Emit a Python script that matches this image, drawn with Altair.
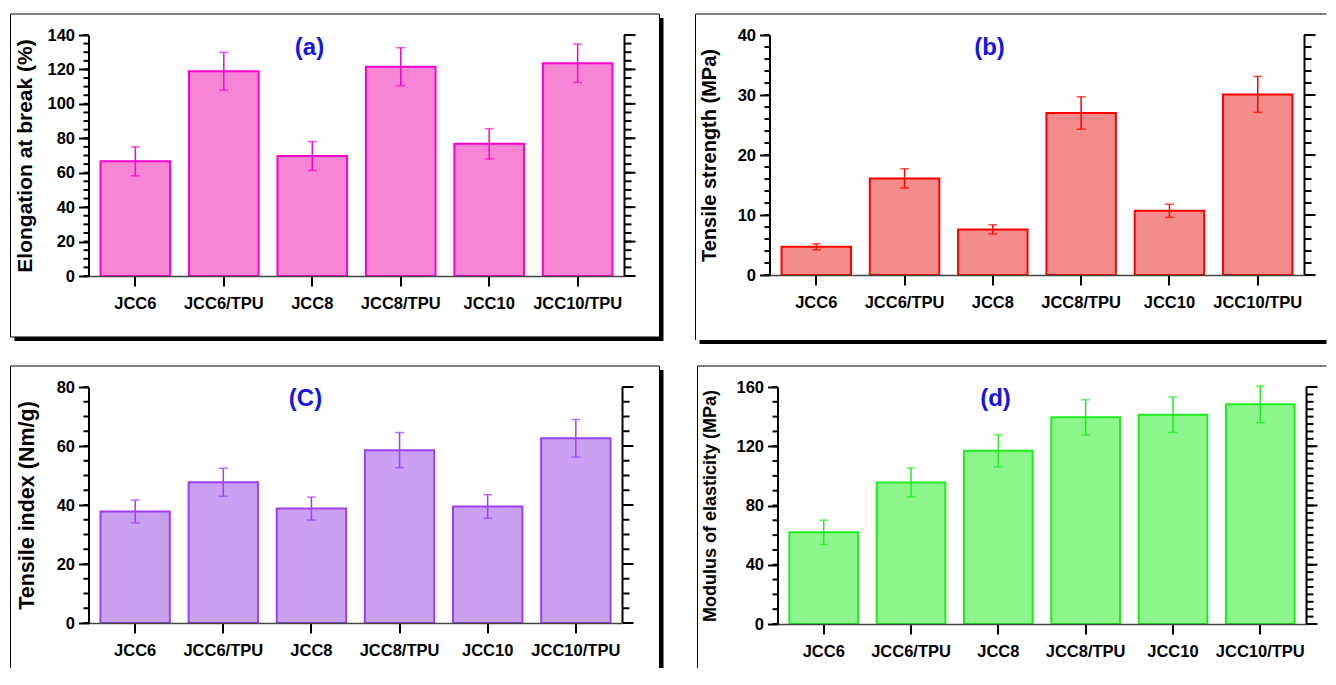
import altair as alt
import pandas as pd

FONT = "Liberation Sans"

cats = ["JCC6", "JCC6/TPU", "JCC8", "JCC8/TPU", "JCC10", "JCC10/TPU"]

a_val = [66.6, 118.9, 69.7, 121.6, 76.8, 123.6]
a_err = [8.4, 11.0, 8.4, 11.0, 8.8, 11.1]

b_val = [4.7, 16.1, 7.6, 27.0, 10.7, 30.1]
b_err = [0.5, 1.6, 0.78, 2.7, 1.1, 3.0]

c_val = [37.8, 47.7, 38.8, 58.6, 39.5, 62.6]
c_err = [3.85, 4.75, 3.9, 5.95, 4.0, 6.4]

d_val = [61.9, 95.6, 117.0, 139.5, 141.3, 148.3]
d_err = [8.2, 9.8, 10.8, 11.9, 12.0, 12.4]

a_major = [0, 20, 40, 60, 80, 100, 120, 140]
a_minor = list(range(0, 141, 5))
b_major = [0, 10, 20, 30, 40]
b_minor = list(range(0, 41, 2))
c_major = [0, 20, 40, 60, 80]
c_minor = list(range(0, 81, 5))
d_major = [0, 40, 80, 120, 160]
d_minor_left = list(range(0, 161, 10))
d_minor_right = list(range(0, 161, 5))

one = pd.DataFrame({"k": [0]})


def rect(x, x2, y, y2, **kw):
    return alt.Chart(one).mark_rect(**kw).encode(
        x=alt.value(x), x2=alt.value(x2), y=alt.value(y), y2=alt.value(y2))


def hline(x, x2, y, w=1):
    return alt.Chart(one).mark_rule(color="black", strokeWidth=w).encode(
        x=alt.value(x), x2=alt.value(x2), y=alt.value(y))


def vline(x, y, y2, w=1):
    return alt.Chart(one).mark_rule(color="black", strokeWidth=w).encode(
        x=alt.value(x), y=alt.value(y), y2=alt.value(y2))


def panel(vals, errs, ymax, major, minor_l, minor_r, ytitle, tsize, tx,
          label, lx, ly, fill, stroke, w, h, frame):
    df = pd.DataFrame({
        "cat": cats,
        "val": vals,
        "lo": [v - e for v, e in zip(vals, errs)],
        "hi": [v + e for v, e in zip(vals, errs)],
    })
    xscale = alt.Scale(paddingInner=0.213, paddingOuter=0.136)
    yscale = alt.Scale(domain=[0, ymax], nice=False, zero=True)
    xaxis = alt.Axis(orient="bottom", title=None, labelAngle=0, labelFont=FONT,
                     labelFontSize=16.5, labelFontWeight="bold", labelColor="black",
                     labelPadding=9, tickSize=10, tickWidth=2, tickColor="black",
                     domainColor="#444444", domainWidth=1.5, bandPosition=0.5,
                     grid=False, zindex=2)
    yaxis = alt.Axis(orient="left", values=major, title=ytitle, titleFont=FONT,
                     titleFontSize=tsize, titleFontWeight="bold", titleColor="black",
                     titleX=tx, titleY=h / 2, titleAngle=270, titleBaseline="middle",
                     titleAlign="center", labelFont=FONT, labelFontSize=16.5,
                     labelFontWeight="bold", labelColor="black", labelPadding=4,
                     tickSize=10, tickWidth=2, tickColor="black",
                     domainColor="black", domainWidth=2, grid=False, format="d",
                     zindex=2)
    xenc = alt.X("cat:N", sort=cats, scale=xscale, axis=xaxis)

    def yenc(field):
        return alt.Y(field, type="quantitative", scale=yscale, axis=yaxis)

    bars = alt.Chart(df).mark_bar(fill=fill, stroke=stroke, strokeWidth=2).encode(
        x=xenc, y=yenc("val"))

    def ticks(values, x0, x1):
        return alt.Chart(pd.DataFrame({"t": values})).mark_rule(
            color="black", strokeWidth=2).encode(
            y=yenc("t"), x=alt.value(x0), x2=alt.value(x1))

    left_minor = ticks(minor_l, -5, 0)
    right_minor = ticks(minor_r, w, w + 7)
    right_major = ticks(major, w, w + 11)
    right_domain = alt.Chart(one).mark_rule(color="black", strokeWidth=2).encode(
        x=alt.value(w), y=alt.value(0), y2=alt.value(h))

    err = alt.Chart(df).mark_rule(color=stroke, strokeWidth=1.5).encode(
        x=xenc, y=yenc("lo"), y2="hi:Q")
    cap_hi = alt.Chart(df).mark_tick(color=stroke, size=9, thickness=1.5).encode(
        x=xenc, y=yenc("hi"))
    cap_lo = alt.Chart(df).mark_tick(color=stroke, size=9, thickness=1.5).encode(
        x=xenc, y=yenc("lo"))

    txt = alt.Chart(one).mark_text(text=label, font=FONT, fontSize=24,
                                   fontWeight="bold", color="#1414E6",
                                   align="center", baseline="middle").encode(
        x=alt.value(lx), y=alt.value(ly))

    layers = frame + [bars, err, cap_hi, cap_lo, txt,
                      left_minor, right_minor, right_major, right_domain]
    return alt.layer(*layers).properties(width=w, height=h)


# frames (decoration around each panel), relative to each plot area
frame_a = [rect(-74, 575, -17, 306, fill="black"),
           rect(-78, 571, -21, 302, fill="white", stroke="black", strokeWidth=1)]
frame_b = [rect(-70, 557, 305, 309, fill="black"),
           hline(-74, 557, -21), vline(-74, -21, 305)]
frame_c = [rect(571, 575, -17, 281, fill="black"),
           hline(-78, 571, -21), vline(-78, -21, 281), vline(571, -21, 281)]
frame_d = [hline(-80, 549, -21), vline(-80, -21, 281)]

pa = panel(a_val, a_err, 140, a_major, a_minor, a_minor,
           "Elongation at break (%)", 21, -63.5, "(a)", 221, 13,
           "#F785D6", "#FF00CC", 536, 241, frame_a)
pb = panel(b_val, b_err, 40, b_major, b_minor, b_minor,
           "Tensile strength (MPa)", 20, -60, "(b)", 220, 13,
           "#F58C8C", "#FF0000", 535, 240, frame_b)
pc = panel(c_val, c_err, 80, c_major, c_minor, c_minor,
           "Tensile index (Nm/g)", 21.5, -61, "(C)", 217, 12,
           "#C9A0F2", "#9E3FF0", 534, 236, frame_c)
pd_ = panel(d_val, d_err, 160, d_major, d_minor_left, d_minor_right,
            "Modulus of elasticity (MPa)", 18, -67.5, "(d)", 218, 11.5,
            "#8CF58C", "#1EEE1E", 529, 237, frame_d)

row1 = alt.hconcat(pa, pb, spacing=145, bounds="flush")
row2 = alt.hconcat(pc, pd_, spacing=155, bounds="flush")

chart = alt.vconcat(row1, row2, spacing=21, bounds="full").properties(
    padding={"left": 1.5, "top": 5, "right": 0, "bottom": 0}
).configure_view(stroke="transparent", strokeWidth=0)

chart.save("out.html", embed_options={"renderer": "svg", "actions": False})
